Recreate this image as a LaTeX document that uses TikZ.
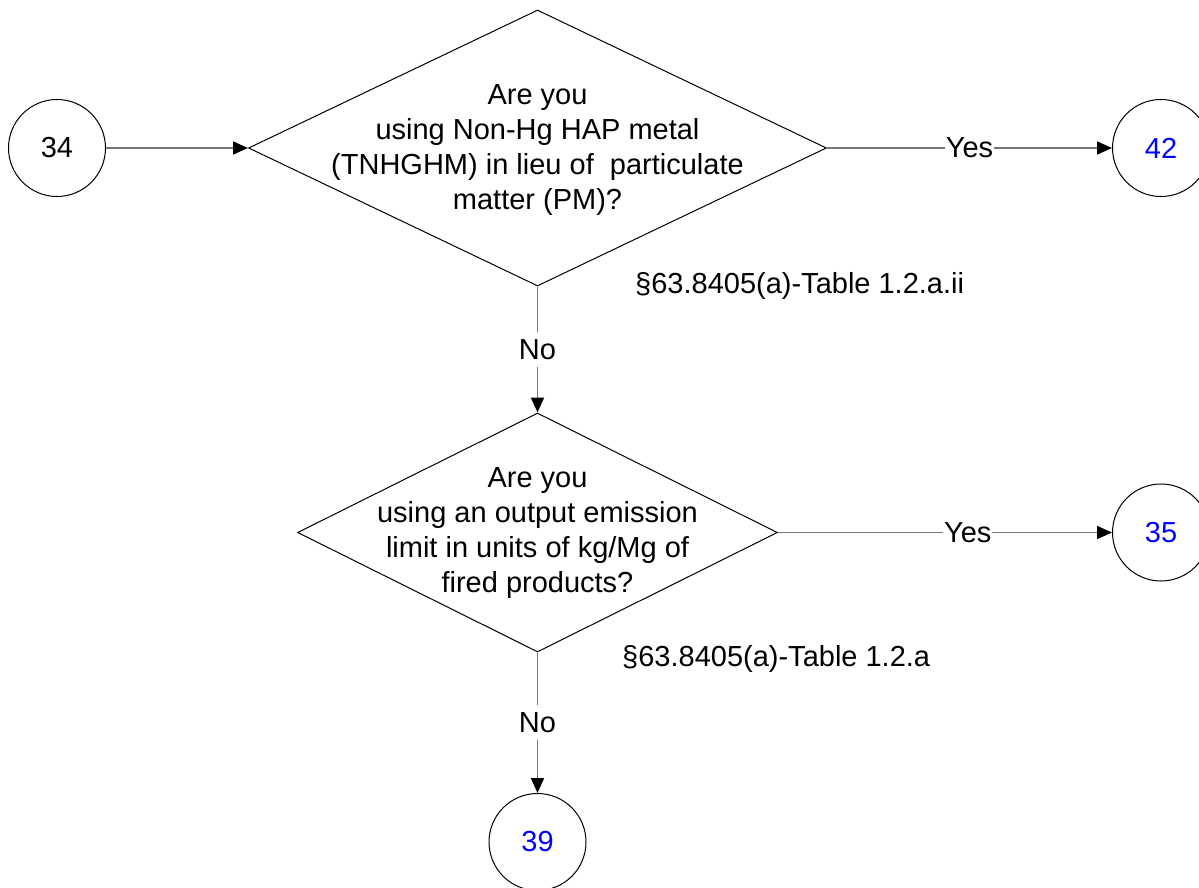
\documentclass[tikz,border=0pt]{standalone}
\usepackage{fontspec}
\setmainfont{Liberation Sans}
\usetikzlibrary{shapes.geometric,arrows.meta}
\definecolor{numblue}{RGB}{0,0,255}
\definecolor{conngray}{RGB}{118,118,118}
\begin{document}
\begin{tikzpicture}[x=1pt,y=-1pt,
  every node/.style={font=\fontsize{29}{35}\selectfont},
  circ/.style={circle,draw=black,line width=1pt,minimum size=97pt,inner sep=0pt},
  dia/.style={diamond,draw=black,line width=1pt,inner sep=0pt},
  qtext/.style={align=center,inner sep=0pt},
  conn/.style={draw=conngray,line width=1.8pt,-{Triangle[length=15pt,width=13pt,color=black]}},
  lab/.style={fill=white,inner xsep=1pt,inner ysep=7.5pt},
  refl/.style={anchor=base west,inner sep=0pt}
]
\useasboundingbox (0,0) rectangle (1199,888);
% nodes
\node[circ] (c34) at (57,148) {34};
\node[dia,minimum width=578pt,minimum height=276pt] (d1) at (537.5,148) {};
\node[qtext] (d1t) at (537.5,150) {Are you\\using Non-Hg HAP metal\\(TNHGHM) in lieu of\ \ particulate\\matter (PM)?};
\node[circ,text=numblue] (c42) at (1161,148) {42};
\node[refl] (r1) at (635,293) {§63.8405(a)-Table 1.2.a.ii};
\node[dia,minimum width=480pt,minimum height=239pt] (d2) at (537.5,532.5) {};
\node[qtext] (d2t) at (537.5,533) {Are you\\using an output emission\\limit in units of kg/Mg of\\fired products?};
\node[circ,text=numblue] (c35) at (1161,532.5) {35};
\node[refl] (r2) at (622,666) {§63.8405(a)-Table 1.2.a};
\node[circ,text=numblue] (c39) at (537.5,842) {39};
% connectors
\draw[conn] (c34.east) -- (d1.west);
\draw[conn] (d1.east) -- node[lab] (y1) {Yes} (c42.west);
\draw[conn] (d1.south) -- node[lab] (n1) {No} (d2.north);
\draw[conn] (d2.east) -- node[lab,pos=0.568] (y2) {Yes} (c35.west);
\draw[conn] (d2.south) -- node[lab] (n2) {No} (c39.north);
\end{tikzpicture}
\end{document}
